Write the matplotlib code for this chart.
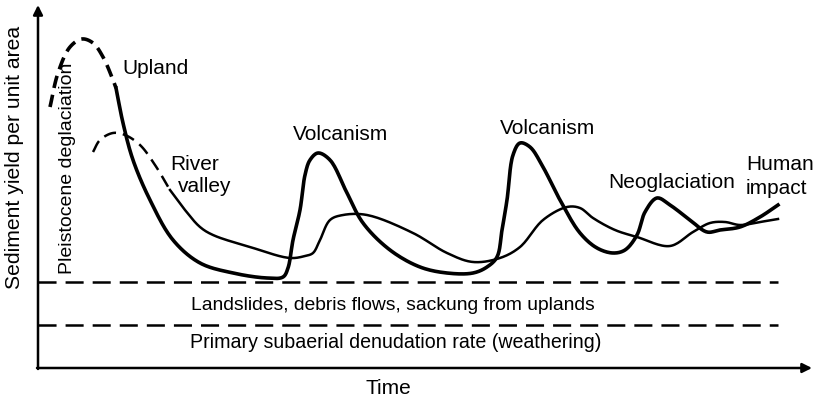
import numpy as np
import matplotlib
matplotlib.use('Agg')
import matplotlib.pyplot as plt

plt.rcParams['font.family'] = ['Liberation Sans', 'DejaVu Sans']
plt.rcParams['lines.scale_dashes'] = False

# Upland curve (thick): dashed deglaciation part, then solid
upland_dash_t = [12, 20, 32, 44, 55, 65, 75, 78]
upland_dash_y = [261, 295, 321, 329, 325, 311, 288, 280]
upland_t = [78, 85, 95, 112, 135, 162, 195, 229, 245, 250, 255, 262, 267, 272, 280,
            292, 309, 325, 352, 382, 409, 435, 449, 459, 464, 469, 475, 482, 492,
            505, 522, 542, 559, 575, 587, 599, 607, 619, 632, 652, 669, 682, 702,
            722, 740]
upland_y = [280, 245, 208, 168, 128, 105, 95, 90, 91, 100, 128, 158, 193, 208, 215,
            208, 175, 145, 118, 101, 95, 95, 101, 111, 138, 168, 213, 225, 221,
            201, 168, 135, 120, 115, 118, 133, 156, 170, 163, 148, 136, 138, 141,
            151, 163]

# River valley curve (thin)
river_dash_t = [55, 62, 75, 87, 102, 117, 132]
river_dash_y = [216, 228, 235, 233, 223, 203, 178]
river_t = [132, 147, 162, 175, 212, 252, 267, 275, 282, 292, 305, 329, 375, 409,
           435, 462, 482, 505, 529, 542, 555, 577, 599, 632, 655, 672, 687, 702,
           722, 740]
river_y = [178, 158, 141, 133, 121, 110, 112, 115, 128, 148, 153, 153, 135, 115,
           106, 110, 121, 148, 161, 160, 150, 138, 131, 122, 136, 145, 146, 143,
           146, 149]

# thresholds
levels = [86, 43]
level_end = 740


def smooth(t, y, n=16):
    # centripetal Catmull-Rom through the read points (hand-drawn look)
    p = np.column_stack([t, y]).astype(float)
    p = np.vstack([2 * p[0] - p[1], p, 2 * p[-1] - p[-2]])
    out = []
    for i in range(1, len(p) - 2):
        p0, p1, p2, p3 = p[i - 1], p[i], p[i + 1], p[i + 2]
        t0 = 0.0
        t1 = t0 + np.linalg.norm(p1 - p0) ** 0.5
        t2 = t1 + np.linalg.norm(p2 - p1) ** 0.5
        t3 = t2 + np.linalg.norm(p3 - p2) ** 0.5
        s = np.linspace(t1, t2, n, endpoint=False)[:, None]
        a1 = (t1 - s) / (t1 - t0) * p0 + (s - t0) / (t1 - t0) * p1
        a2 = (t2 - s) / (t2 - t1) * p1 + (s - t1) / (t2 - t1) * p2
        a3 = (t3 - s) / (t3 - t2) * p2 + (s - t2) / (t3 - t2) * p3
        b1 = (t2 - s) / (t2 - t0) * a1 + (s - t0) / (t2 - t0) * a2
        b2 = (t3 - s) / (t3 - t1) * a2 + (s - t1) / (t3 - t1) * a3
        out.append((t2 - s) / (t2 - t1) * b1 + (s - t1) / (t2 - t1) * b2)
    out.append(p[-2][None, :])
    out = np.vstack(out)
    return out[:, 0], out[:, 1]


fig = plt.figure(figsize=(8.18, 4.0), dpi=100)
ax = fig.add_axes([38 / 818, 32 / 400, 774 / 818, 363 / 400])
ax.set_xlim(0, 774)
ax.set_ylim(0, 363)
ax.axis('off')

x, y = smooth(upland_dash_t, upland_dash_y)
ax.plot(x, y, color='black', lw=2.6, dashes=(9, 5), solid_capstyle='butt')
x, y = smooth(upland_t, upland_y)
ax.plot(x, y, color='black', lw=2.6)

x, y = smooth(river_dash_t, river_dash_y)
ax.plot(x, y, color='black', lw=1.8, dashes=(9, 5))
x, y = smooth(river_t, river_y)
ax.plot(x, y, color='black', lw=1.8)

for lv in levels:
    ax.plot([0, level_end], [lv, lv], color='black', lw=1.8, dashes=(13, 6.5))

# axes arrows
ax.annotate('', xy=(0, 363), xytext=(0, -1), annotation_clip=False,
            arrowprops=dict(arrowstyle='-|>', color='black', lw=1.8,
                            mutation_scale=14, shrinkA=0, shrinkB=0))
ax.annotate('', xy=(774, 0), xytext=(-1, 0), annotation_clip=False,
            arrowprops=dict(arrowstyle='-|>', color='black', lw=1.8,
                            mutation_scale=14, shrinkA=0, shrinkB=0))

fs = 15
ax.text(-23, 211, 'Sediment yield per unit area', rotation=90, ha='center', va='center',
        fontsize=15.2)
ax.text(350, -20, 'Time', ha='center', va='center', fontsize=fs)
ax.text(30, 200, 'Pleistocene deglaciation', rotation=90, ha='center', va='center',
        fontsize=14)
ax.text(355, 63, 'Landslides, debris flows, sackung from uplands', ha='center',
        va='center', fontsize=13.9)
ax.text(358, 25, 'Primary subaerial denudation rate (weathering)', ha='center',
        va='center', fontsize=14.1)

ax.text(84, 300, 'Upland', ha='left', va='center', fontsize=fs)
ax.text(132, 203, 'River', ha='left', va='center', fontsize=fs)
ax.text(140, 181, 'valley', ha='left', va='center', fontsize=fs)
ax.text(255, 233, 'Volcanism', ha='left', va='center', fontsize=fs)
ax.text(462, 240, 'Volcanism', ha='left', va='center', fontsize=fs)
ax.text(570, 185, 'Neoglaciation', ha='left', va='center', fontsize=fs)
ax.text(708, 203, 'Human', ha='left', va='center', fontsize=fs)
ax.text(708, 180, 'impact', ha='left', va='center', fontsize=fs)

fig.savefig('out.png', dpi=100)
